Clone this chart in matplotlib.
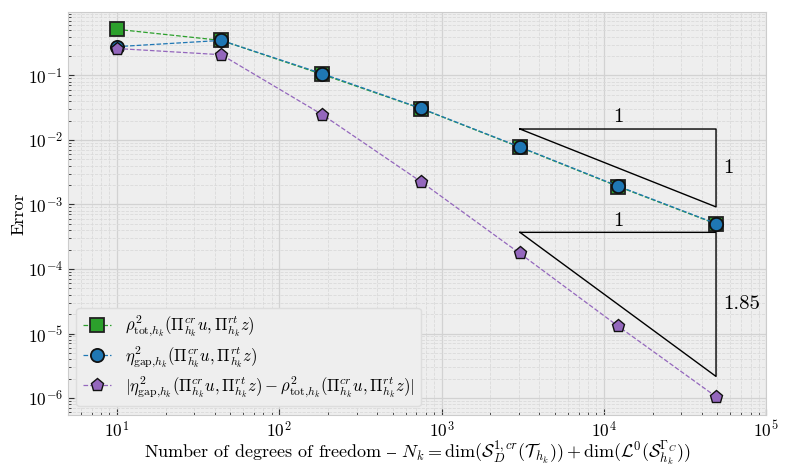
import matplotlib
matplotlib.use("Agg")
from matplotlib import pyplot as plt

plt.rcParams['mathtext.fontset'] = 'cm'
plt.rcParams['font.family'] = ['cmr10', 'DejaVu Serif']
plt.rcParams['axes.formatter.use_mathtext'] = True
plt.rcParams['axes.unicode_minus'] = False

# degrees of freedom per refinement level
ndofs = [10, 44, 184, 752, 3040, 12224, 49024]

# error estimators
rho_tot = [0.52, 0.35, 0.104, 0.0305, 0.0077, 0.0019, 5.0e-4]
eta_gap = [0.28, 0.35, 0.107, 0.0308, 0.0078, 0.00193, 5.07e-4]
diff = [0.262, 0.21, 0.0248, 0.00223, 1.74e-4, 1.3e-5, 1.05e-6]

# slope triangles: (x start, x end, y at top, rate)
triangles = [(3040, 49024, 0.0148, 1.0),
             (3040, 49024, 3.7e-4, 1.85)]
rate_labels = ["1", "1.85"]

lbl_cu = r"(\Pi^{cr}_{h_k}u, \Pi^{rt}_{h_k}z)"
lbl_rho = r"$\rho^2_{\mathrm{tot}{,}h_k}" + lbl_cu + "$"
lbl_eta = r"$\eta^2_{\mathrm{gap}{,}h_k}" + lbl_cu + "$"
lbl_diff = (r"$|\eta^2_{\mathrm{gap}{,}h_k}" + lbl_cu + r" - \rho^2_{\mathrm{tot}{,}h_k}"
            + lbl_cu + "|$")

fig, ax = plt.subplots(figsize=(7.9, 4.74), dpi=100)
ax.set_facecolor('#eeeeee')
for s in ax.spines.values():
    s.set_color('#cccccc')

ax.plot(ndofs, rho_tot, color='#2ca02c', marker='s', linestyle='--', lw=0.9,
        markersize=9.5, markeredgecolor='#222222', markeredgewidth=1.3, label=lbl_rho)
ax.plot(ndofs, eta_gap, color='#1f77b4', marker='o', linestyle='--', lw=0.9,
        markersize=9.5, markeredgecolor='#111111', markeredgewidth=1.3, label=lbl_eta)
ax.plot(ndofs, diff, color='#9467bd', marker='p', linestyle='--', lw=0.9,
        markersize=9.5, markeredgecolor='#111111', markeredgewidth=1.0, label=lbl_diff)

# slope triangles
for (x0, x1, ytop, rate), lab in zip(triangles, rate_labels):
    ybot = ytop * (x1 / x0) ** (-rate)
    ax.plot([x0, x1, x1, x0], [ytop, ytop, ybot, ytop], color='black', lw=1.0)
    xm = (x0 * x1) ** 0.5
    ax.text(xm, ytop * 1.1, "1", fontsize=15, ha='center', va='bottom')
    ym = (ytop * ybot) ** 0.5
    ax.text(x1 * 1.1, ym, lab, fontsize=15, ha='left', va='center')

ax.set_xscale('log')
ax.set_yscale('log')
ax.set_xlim(5, 1e5)
ax.set_ylim(5.5e-7, 0.97)

ax.grid(which='major', color='#d2d2d2', linestyle='-', linewidth=0.9)
ax.grid(which='minor', color='#dadada', linestyle='--', linewidth=0.6)
ax.tick_params(which='both', direction='in', labelsize=12.5, colors='#333333')
ax.tick_params(which='major', length=4)
ax.tick_params(which='minor', length=2)
for t in ax.get_xticklabels() + ax.get_yticklabels():
    t.set_color('black')

ax.set_ylabel("Error", fontsize=13, labelpad=1)
ax.set_xlabel("Number of degrees of freedom $\u2013$ "
              r"$N_k = \dim(\mathcal{S}^{1,cr}_D(\mathcal{T}_{h_k}))"
              r" + \dim(\mathcal{L}^0(\mathcal{S}^{\Gamma_C}_{h_k}))$", fontsize=13,
              labelpad=-1)

leg = ax.legend(loc='lower left', fontsize=12, facecolor='#eeeeee',
                edgecolor='#dddddd', framealpha=1.0, handlelength=1.7,
                labelspacing=0.3)

fig.subplots_adjust(left=0.086, right=0.97, top=0.975, bottom=0.125)
fig.savefig("out.png", dpi=100)
